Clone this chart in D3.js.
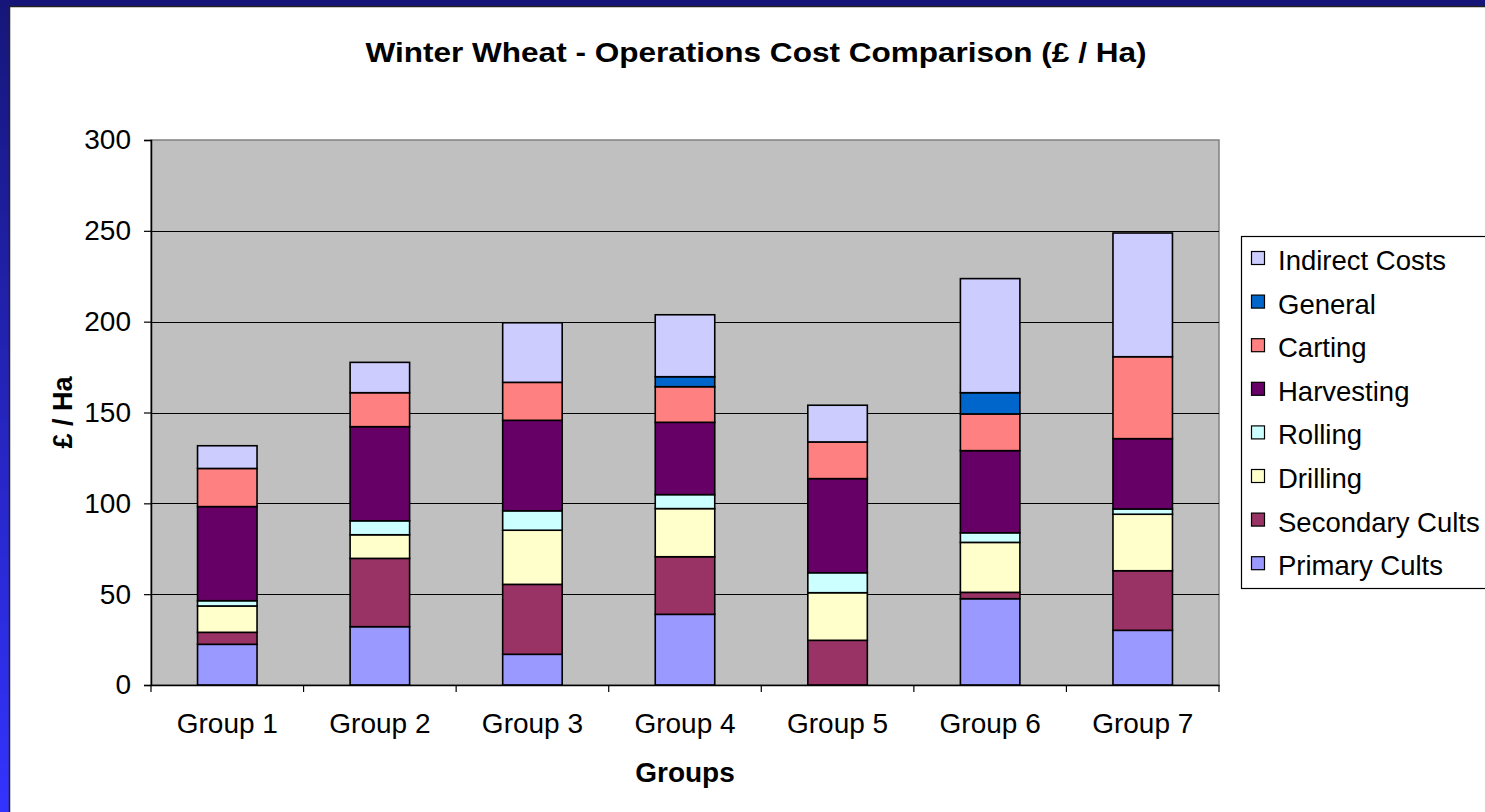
<!DOCTYPE html>
<html>
<head>
<meta charset="utf-8">
<script src="https://cdn.jsdelivr.net/npm/d3@7"></script>
<style>
  body { margin: 0; background: #fff; }
  text { font-family: "Liberation Sans", Arial, sans-serif; }
</style>
</head>
<body>
<div class="chart"></div>
<script>
// chart data
var groups = ["Group 1", "Group 2", "Group 3", "Group 4", "Group 5", "Group 6", "Group 7"];
var seriesNames = ["Primary Cults", "Secondary Cults", "Drilling", "Rolling", "Harvesting", "Carting", "General", "Indirect Costs"];
var primaryCults   = [22.4, 32.1, 16.9, 38.9, 0.0, 47.5, 30.1];
var secondaryCults = [6.6, 37.6, 38.5, 31.7, 24.6, 3.5, 32.8];
var drilling       = [14.5, 13.0, 29.8, 26.5, 26.2, 27.5, 31.1];
var rolling        = [2.9, 7.7, 10.7, 7.7, 11.0, 5.3, 2.9];
var harvesting     = [51.8, 51.8, 49.8, 39.8, 51.8, 45.2, 38.7];
var carting        = [21.0, 18.7, 20.9, 19.6, 20.2, 20.2, 45.1];
var general        = [0, 0, 0, 5.5, 0, 11.7, 0];
var indirectCosts  = [12.5, 16.7, 32.8, 34.1, 20.2, 62.8, 68.1];
var yTicks = [0, 50, 100, 150, 200, 250, 300];
var colors = ["#9999ff", "#993366", "#ffffcc", "#ccffff", "#660066", "#ff8080", "#0066cc", "#ccccff"];

var seriesValues = [primaryCults, secondaryCults, drilling, rolling, harvesting, carting, general, indirectCosts];

// rows for d3.stack
var table = groups.map(function(g, i) {
  var row = { group: g };
  seriesNames.forEach(function(s, j) { row[s] = seriesValues[j][i]; });
  return row;
});

var svgWidth = 1485;
var svgHeight = 812;

var margin = { top: 140, right: 266, bottom: 127, left: 151 };
var width = svgWidth - margin.left - margin.right;
var height = svgHeight - margin.top - margin.bottom;

var svg = d3.select(".chart")
  .append("svg")
  .attr("width", svgWidth)
  .attr("height", svgHeight);

// slide frame
var defs = svg.append("defs");
var grad = defs.append("linearGradient")
  .attr("id", "side")
  .attr("x1", 0).attr("y1", 0).attr("x2", 0).attr("y2", 1);
grad.append("stop").attr("offset", "0%").attr("stop-color", "#16167a");
grad.append("stop").attr("offset", "100%").attr("stop-color", "#3333ff");

svg.append("rect").attr("x", 0).attr("y", 0).attr("width", 10).attr("height", svgHeight).attr("fill", "url(#side)");
svg.append("rect").attr("x", 0).attr("y", 0).attr("width", svgWidth).attr("height", 7).attr("fill", "#16167a");
svg.append("rect").attr("x", 10).attr("y", 7).attr("width", svgWidth - 10).attr("height", svgHeight - 7).attr("fill", "#fff");
svg.append("path").attr("d", "M9.5," + svgHeight + "V6.5H" + svgWidth).attr("fill", "none").attr("stroke", "#222").attr("stroke-width", 1.5);

var chartGroup = svg.append("g")
  .attr("transform", `translate(${margin.left}, ${margin.top})`);

// scales
var xScale = d3.scaleBand()
  .domain(groups)
  .range([0, width])
  .paddingInner(0.61)
  .paddingOuter(0.305);

var yScale = d3.scaleLinear()
  .domain([0, 300])
  .range([height, 0]);

// plot area
chartGroup.append("rect")
  .attr("width", width)
  .attr("height", height)
  .attr("fill", "#c0c0c0")
  .attr("stroke", "#808080")
  .attr("stroke-width", 1.5);

// gridlines
chartGroup.append("g")
  .selectAll("line")
  .data(yTicks.slice(1, -1))
  .enter()
  .append("line")
  .attr("x1", 0)
  .attr("x2", width)
  .attr("y1", d => Math.round(yScale(d)) + 0.5)
  .attr("y2", d => Math.round(yScale(d)) + 0.5)
  .attr("stroke", "#000")
  .attr("stroke-width", 1.2);

// bars
var stack = d3.stack().keys(seriesNames);
var layers = stack(table);

chartGroup.append("g")
  .selectAll("g")
  .data(layers)
  .enter()
  .append("g")
  .attr("fill", (d, i) => colors[i])
  .selectAll("rect")
  .data(d => d.filter(p => p[1] - p[0] > 0))
  .enter()
  .append("rect")
  .attr("x", d => xScale(d.data.group))
  .attr("y", d => yScale(d[1]))
  .attr("width", xScale.bandwidth())
  .attr("height", d => yScale(d[0]) - yScale(d[1]))
  .attr("stroke", "#000")
  .attr("stroke-width", 1.6);

// y axis
var leftAxis = d3.axisLeft(yScale)
  .tickValues(yTicks)
  .tickSize(7)
  .tickPadding(13);

var yAxis = chartGroup.append("g").call(leftAxis);
yAxis.select(".domain").attr("stroke", "#000").attr("stroke-width", 1.5);
yAxis.selectAll(".tick line").attr("stroke", "#000").attr("stroke-width", 1.2);
yAxis.selectAll("text")
  .attr("fill", "#000")
  .style("font-size", "28px")
  .style("font-family", "'Liberation Sans', Arial, sans-serif");

// x axis, ticks sit between categories
var bottomAxis = d3.axisBottom(xScale).tickSize(0).tickPadding(28);
var xAxis = chartGroup.append("g")
  .attr("transform", `translate(0, ${height})`)
  .call(bottomAxis);
xAxis.select(".domain").attr("stroke", "#000").attr("stroke-width", 1.5);
xAxis.selectAll("text")
  .attr("fill", "#000")
  .style("font-size", "28px")
  .style("font-family", "'Liberation Sans', Arial, sans-serif");

xAxis.selectAll(".sep")
  .data(d3.range(groups.length + 1))
  .enter()
  .append("line")
  .attr("x1", d => d * xScale.step())
  .attr("x2", d => d * xScale.step())
  .attr("y1", 0)
  .attr("y2", 7)
  .attr("stroke", "#000")
  .attr("stroke-width", 1.2);

// title (the source font runs wide, so stretch it to the same length)
svg.append("text")
  .attr("x", 756)
  .attr("y", 62)
  .attr("text-anchor", "middle")
  .attr("textLength", 781)
  .attr("lengthAdjust", "spacingAndGlyphs")
  .style("font-size", "27px")
  .style("font-weight", "bold")
  .text("Winter Wheat - Operations Cost Comparison (£ / Ha)");

// axis titles
chartGroup.append("text")
  .attr("x", width / 2)
  .attr("y", height + 97)
  .attr("text-anchor", "middle")
  .style("font-size", "28px")
  .style("font-weight", "bold")
  .text("Groups");

chartGroup.append("text")
  .attr("transform", "rotate(-90)")
  .attr("x", 0 - (yScale(150) ))
  .attr("y", 0 - margin.left + 72)
  .attr("text-anchor", "middle")
  .style("font-size", "27px")
  .style("font-weight", "bold")
  .text("£ / Ha");

// legend
var legend = svg.append("g").attr("transform", "translate(1241, 236)");
legend.append("rect")
  .attr("x", 0.5)
  .attr("y", 0.5)
  .attr("width", 400)
  .attr("height", 352)
  .attr("fill", "#fff")
  .attr("stroke", "#000")
  .attr("stroke-width", 1.2);

var legendOrder = seriesNames.slice().reverse();
var items = legend.selectAll(".item")
  .data(legendOrder)
  .enter()
  .append("g")
  .attr("transform", (d, i) => `translate(10, ${34 + i * 43.6})`);

items.append("rect")
  .attr("x", 0.5)
  .attr("y", -18.5)
  .attr("width", 13)
  .attr("height", 13)
  .attr("fill", d => colors[seriesNames.indexOf(d)])
  .attr("stroke", "#000")
  .attr("stroke-width", 1.2);

items.append("text")
  .attr("x", 27)
  .attr("y", 0)
  .style("font-size", "27.5px")
  .text(d => d);
</script>
</body>
</html>
